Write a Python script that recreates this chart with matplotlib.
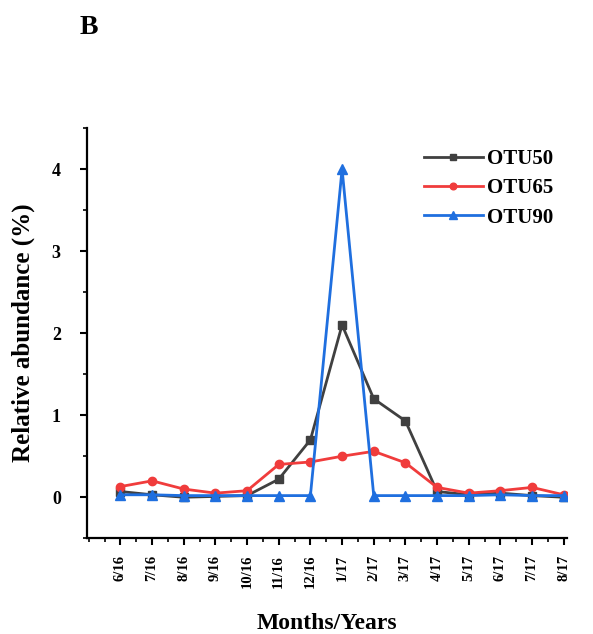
import numpy as np
import matplotlib.pyplot as plt
from matplotlib.ticker import MultipleLocator

months = ['6/16', '7/16', '8/16', '9/16', '10/16', '11/16', '12/16', '1/17',
          '2/17', '3/17', '4/17', '5/17', '6/17', '7/17', '8/17']
otu50 = [0.07, 0.03, 0.0, 0.01, 0.02, 0.22, 0.70, 2.10, 1.20, 0.93, 0.07, 0.03, 0.05, 0.02, 0.0]
otu65 = [0.13, 0.20, 0.10, 0.05, 0.08, 0.40, 0.43, 0.50, 0.56, 0.42, 0.12, 0.05, 0.08, 0.12, 0.03]
otu90 = [0.03, 0.03, 0.02, 0.02, 0.02, 0.02, 0.02, 4.00, 0.02, 0.02, 0.02, 0.02, 0.03, 0.02, 0.02]


def main():
    plt.rcParams['font.family'] = ['Liberation Serif', 'DejaVu Serif']
    plt.rcParams['font.weight'] = 'bold'

    fig = plt.figure(figsize=(5.93, 6.34), dpi=100)
    ax = fig.add_axes([0.147, 0.151, 0.809, 0.647])

    x = np.arange(len(months))
    ax.plot(x, otu50, color='#404040', marker='s', markersize=6, lw=2, label='OTU50')
    ax.plot(x, otu65, color='#f03c3c', marker='o', markersize=6, lw=2, label='OTU65')
    ax.plot(x, otu90, color='#1f6fdf', marker='^', markersize=7, lw=2, label='OTU90')

    ax.set_xlim(-1.05, 14.1)
    ax.set_ylim(-0.5, 4.5)
    ax.set_xticks(x)
    ax.set_xticklabels(months, rotation=90, fontsize=10.5, fontweight='bold')
    ax.xaxis.set_minor_locator(MultipleLocator(0.5))
    ax.set_yticks([0, 1, 2, 3, 4])
    ax.yaxis.set_minor_locator(MultipleLocator(0.5))
    for lab in ax.get_yticklabels():
        lab.set_fontweight('bold')
        lab.set_fontsize(13)

    ax.tick_params(which='major', length=5, width=1.5)
    ax.tick_params(which='minor', length=3, width=1.2)
    ax.tick_params(axis='x', pad=7)
    ax.tick_params(axis='y', pad=14)

    for s in ['top', 'right']:
        ax.spines[s].set_visible(False)
    for s in ['left', 'bottom']:
        ax.spines[s].set_linewidth(1.6)

    ax.set_ylabel('Relative abundance (%)', fontsize=18, fontweight='bold', labelpad=12)
    ax.set_xlabel('Months/Years', fontsize=17, fontweight='bold', labelpad=18)

    ax.legend(loc='upper right', bbox_to_anchor=(1.01, 0.995), frameon=False,
              prop={'size': 15, 'weight': 'bold'}, handlelength=2.8,
              handletextpad=0.2, labelspacing=0.45, markerscale=0.8)

    fig.text(0.135, 0.957, 'B', fontsize=20, fontweight='bold', va='center')

    plt.savefig('out.png', dpi=100)
    plt.close()


if __name__ == "__main__":
    main()
